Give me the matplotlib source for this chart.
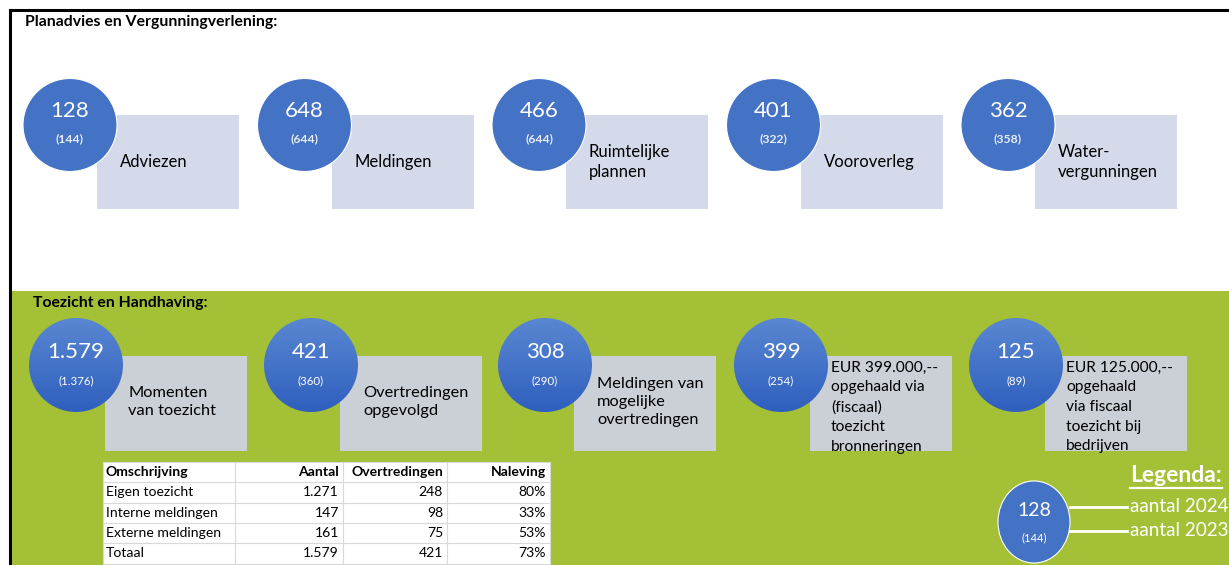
import matplotlib
matplotlib.use("Agg")
import matplotlib.pyplot as plt
import numpy as np
from matplotlib.patches import Ellipse, Rectangle
from matplotlib.colors import LinearSegmentedColormap

plt.rcParams['font.family'] = ['Lato', 'DejaVu Sans']

# ---------------- data ----------------
top_title = "Planadvies en Vergunningverlening:"
top_now = ["128", "648", "466", "401", "362"]
top_prev = ["(144)", "(644)", "(644)", "(322)", "(358)"]
top_labels = ["Adviezen", "Meldingen", "Ruimtelijke\nplannen", "Vooroverleg", "Water-\nvergunningen"]

bot_title = "Toezicht en Handhaving:"
bot_now = ["1.579", "421", "308", "399", "125"]
bot_prev = ["(1.376)", "(360)", "(290)", "(254)", "(89)"]
bot_labels = ["Momenten\nvan toezicht", "Overtredingen\nopgevolgd",
              "Meldingen van\nmogelijke\novertredingen",
              "EUR 399.000,--\nopgehaald via\n(fiscaal)\ntoezicht\nbronneringen",
              "EUR 125.000,--\nopgehaald\nvia fiscaal\ntoezicht bij\nbedrijven"]

table_header = ["Omschrijving", "Aantal", "Overtredingen", "Naleving"]
table_desc = ["Eigen toezicht", "Interne meldingen", "Externe meldingen", "Totaal"]
table_aantal = ["1.271", "147", "161", "1.579"]
table_overtr = ["248", "98", "75", "421"]
table_nalev = ["80%", "33%", "53%", "73%"]

legend_title = "Legenda:"
legend_now = "128"
legend_prev = "(144)"
legend_labels = ["aantal 2024", "aantal 2023"]

# ---------------- style ----------------
W, H = 1229, 565
GREEN = "#A3C037"
BLUE = "#4472C4"
TOPRECT = "#D5DAEB"
BOTRECT = "#CBD0D6"

fig = plt.figure(figsize=(W / 100, H / 100), dpi=100)
ax = fig.add_axes([0, 0, 1, 1])
ax.set_xlim(0, W)
ax.set_ylim(H, 0)
ax.axis("off")

# background sections
ax.add_patch(Rectangle((10, 291), W, H - 291, facecolor=GREEN, edgecolor="none", zorder=0))
ax.plot([10, 10], [10, H], color="black", lw=2.2, zorder=5)
ax.plot([10, W], [10, 10], color="black", lw=2.2, zorder=5)

ax.text(25, 22, top_title, fontsize=11.3, fontweight="bold", va="center", ha="left", color="black")
ax.text(33, 303, bot_title, fontsize=11.3, fontweight="bold", va="center", ha="left", color="black")

# ---------------- top row ----------------
step = 234.5
for i in range(len(top_now)):
    cx = 70 + i * step
    cy = 125
    ax.add_patch(Rectangle((cx + 27, 115), 142, 94, facecolor=TOPRECT, edgecolor="none", zorder=1))
    ax.add_patch(Ellipse((cx, cy), 94, 93, facecolor=BLUE, edgecolor="white", lw=0.8, zorder=2))
    ax.text(cx, cy - 14, top_now[i], fontsize=16, color="white", ha="center", va="center", zorder=3)
    ax.text(cx, cy + 14, top_prev[i], fontsize=8.7, fontweight="bold", color="#E8EEF8",
            ha="center", va="center", zorder=3)
    ax.text(cx + 50, 162, top_labels[i], fontsize=12,
            color="black", ha="left", va="center", linespacing=1.3, zorder=3)

# gradient for bottom circles
grad = np.linspace(0, 1, 256).reshape(-1, 1)
cmap_b = LinearSegmentedColormap.from_list("b", ["#5A87D2", "#2F5FBE"])

def grad_circle(cx, cy, rx, ry):
    e = Ellipse((cx, cy), 2 * rx, 2 * ry, facecolor="none", edgecolor="none", zorder=2)
    ax.add_patch(e)
    im = ax.imshow(grad, cmap=cmap_b, aspect="auto",
                   extent=(cx - rx, cx + rx, cy + ry, cy - ry), zorder=2, interpolation="bilinear")
    im.set_clip_path(e)

# ---------------- bottom row ----------------
bx = [76, 311, 545, 781, 1016]
for i in range(len(bot_now)):
    cx = bx[i]
    cy = 365
    ax.add_patch(Rectangle((cx + 29, 356), 142, 95, facecolor=BOTRECT, edgecolor="none", zorder=1))
    grad_circle(cx, cy, 47, 47)
    ax.text(cx, cy - 13, bot_now[i], fontsize=16, color="white", ha="center", va="center", zorder=3)
    ax.text(cx, cy + 16, bot_prev[i], fontsize=8.3, color="white", ha="center", va="center", zorder=3)
    if i < 3:
        ax.text(cx + 52, 402, bot_labels[i], fontsize=11.8, color="black",
                ha="left", va="center", linespacing=1.38, zorder=3)
    else:
        ax.text(cx + 50, 361, bot_labels[i], fontsize=11.2, color="black",
                ha="left", va="top", linespacing=1.5, zorder=3)

# ---------------- table ----------------
col_edges = [103, 235, 343, 447, 550]
row_top = 462
row_h = 20.3
n_rows = len(table_desc) + 1
ax.add_patch(Rectangle((col_edges[0], row_top), col_edges[-1] - col_edges[0], row_h * n_rows,
                       facecolor="white", edgecolor="none", zorder=1))
for r in range(n_rows + 1):
    ax.plot([col_edges[0], col_edges[-1]], [row_top + r * row_h] * 2, color="#D9D9D9", lw=0.8, zorder=2)
for c in col_edges:
    ax.plot([c, c], [row_top, row_top + n_rows * row_h], color="#D9D9D9", lw=0.8, zorder=2)

rows = [table_header] + [[table_desc[k], table_aantal[k], table_overtr[k], table_nalev[k]]
                         for k in range(len(table_desc))]
for r, row in enumerate(rows):
    y = row_top + (r + 0.5) * row_h
    fw = "bold" if r == 0 else "normal"
    ax.text(col_edges[0] + 3, y, row[0], fontsize=10.1, fontweight=fw, ha="left", va="center", zorder=3)
    for c in range(1, 4):
        ax.text(col_edges[c + 1] - 4, y, row[c], fontsize=10.1, fontweight=fw, ha="right", va="center", zorder=3)

# ---------------- legend ----------------
lcx, lcy = 1034, 522
ax.add_patch(Ellipse((lcx, lcy), 72, 82, facecolor=BLUE, edgecolor="white", lw=0.8, zorder=2))
ax.text(lcx, lcy - 12, legend_now, fontsize=14, color="white", ha="center", va="center", zorder=3)
ax.text(lcx, lcy + 16, legend_prev, fontsize=8, color="white", ha="center", va="center", zorder=3)
for k, (ly, lab) in enumerate(zip([507, 531], legend_labels)):
    ax.plot([1070, 1127], [ly, ly], color="white", lw=2, zorder=3)
    ax.text(1130, ly, lab, fontsize=13.6, color="white", ha="left", va="center", zorder=3)
ax.text(1130, 475, legend_title, fontsize=16.5, fontweight="bold", color="white",
        ha="left", va="center", zorder=3)
ax.plot([1130, 1222], [488, 488], color="white", lw=1.6, zorder=3)

fig.savefig("out.png", dpi=100)
